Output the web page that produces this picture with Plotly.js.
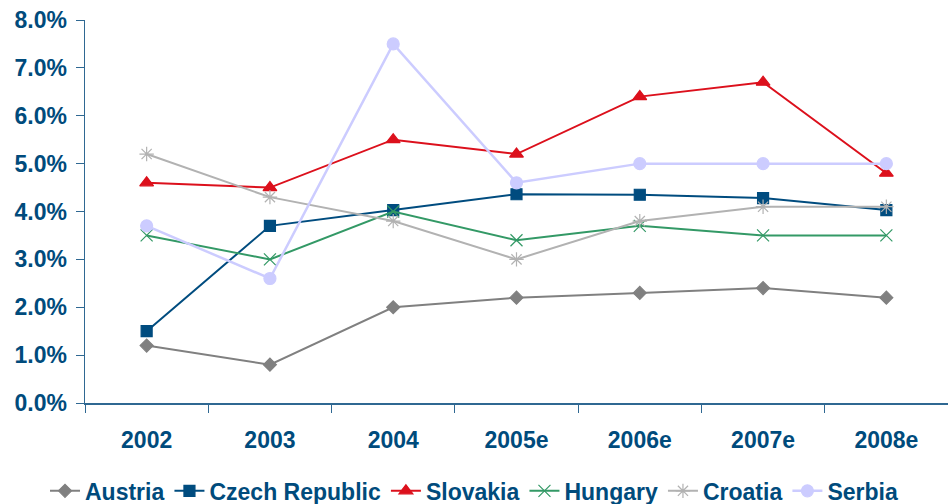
<!DOCTYPE html>
<html>
<head>
<meta charset="utf-8">
<script src="https://cdn.plot.ly/plotly-3.0.1.min.js"></script>
<style>
  html, body { margin: 0; padding: 0; background: #ffffff; }
  #chart { width: 948px; height: 504px; }
</style>
</head>
<body>
<div id="chart"></div>
<script>
// Years (e = estimate)
const years = ['2002', '2003', '2004', '2005e', '2006e', '2007e', '2008e'];

// Growth rates in percent
const austria = [1.2, 0.8, 2.0, 2.2, 2.3, 2.4, 2.2];
const czechRepublic = [1.5, 3.7, 4.03, 4.36, 4.35, 4.28, 4.03];
const slovakia = [4.6, 4.5, 5.5, 5.2, 6.4, 6.7, 4.8];
const hungary = [3.5, 3.0, 4.0, 3.4, 3.7, 3.5, 3.5];
const croatia = [5.2, 4.3, 3.8, 3.0, 3.8, 4.1, 4.1];
const serbia = [3.7, 2.6, 7.5, 4.6, 5.0, 5.0, 5.0];

const yTicks = [0, 1, 2, 3, 4, 5, 6, 7, 8];
const yTickLabels = ['0.0%', '1.0%', '2.0%', '3.0%', '4.0%', '5.0%', '6.0%', '7.0%', '8.0%'];

const textColor = '#004b7c';
const axisColor = '#2f6892';

function series(name, values, color, symbol, size, lineWidth) {
  return {
    type: 'scatter',
    mode: 'lines+markers',
    name: name,
    x: years,
    y: values,
    line: { color: color, width: lineWidth },
    marker: { color: color, symbol: symbol, size: size, line: { color: color, width: 1.2 } },
    cliponaxis: false
  };
}

const data = [
  series('Austria', austria, '#808080', 'diamond', 10, 2),
  series('Czech Republic', czechRepublic, '#004c7f', 'square', 11, 2),
  series('Slovakia', slovakia, '#dc101c', 'triangle-up', 12, 2),
  series('Hungary', hungary, '#339966', 'x-thin-open', 12, 2),
  series('Croatia', croatia, '#b2b2b2', 'asterisk-open', 12, 2),
  series('Serbia', serbia, '#ccccff', 'circle', 12, 2.5)
];

const layout = {
  width: 948,
  height: 504,
  margin: { l: 85, r: 0, t: 20, b: 101 },
  paper_bgcolor: '#ffffff',
  plot_bgcolor: '#ffffff',
  font: { family: 'Liberation Sans, Arial, sans-serif', color: textColor },
  showlegend: true,
  legend: {
    orientation: 'h',
    xref: 'container', yref: 'container',
    x: 0.5, xanchor: 'center',
    y: 0.026, yanchor: 'middle',
    font: { size: 23, color: textColor, family: 'Liberation Sans, Arial, sans-serif', weight: 'bold' },
    itemwidth: 30,
    tracegroupgap: 0
  },
  xaxis: {
    type: 'category',
    range: [-0.5, 6.5],
    showgrid: false,
    zeroline: false,
    showline: true,
    linecolor: axisColor,
    linewidth: 1.5,
    ticks: 'outside',
    tickson: 'boundaries',
    ticklen: 8,
    tickcolor: axisColor,
    tickfont: { size: 23, color: textColor, weight: 'bold' },
    ticklabelstandoff: 16
  },
  yaxis: {
    range: [0, 8],
    tickvals: yTicks,
    ticktext: yTickLabels,
    showgrid: false,
    zeroline: false,
    showline: true,
    linecolor: axisColor,
    linewidth: 1.5,
    ticks: 'outside',
    ticklen: 8,
    tickcolor: axisColor,
    tickfont: { size: 23, color: textColor, weight: 'bold' },
    ticklabelstandoff: 4
  }
};

Plotly.newPlot('chart', data, layout, { displayModeBar: false, staticPlot: true });
</script>
</body>
</html>
